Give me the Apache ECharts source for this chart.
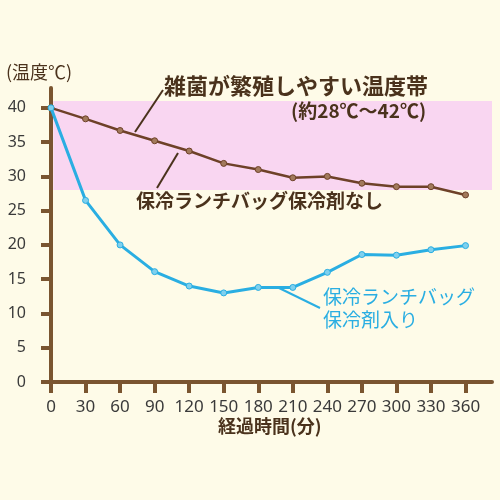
<!DOCTYPE html>
<html><head><meta charset="utf-8">
<script src="https://cdn.jsdelivr.net/npm/echarts@6/dist/echarts.min.js"></script>
<style>html,body{margin:0;padding:0;background:#fefbe8;}#c{width:500px;height:500px;}</style>
</head><body><div id="c"></div>
<script>
var minutes = [0,30,60,90,120,150,180,210,240,270,300,330,360];
var noIce = [40,38.4,36.7,35.2,33.7,31.9,31.0,29.8,30.0,29.0,28.5,28.5,27.3];
var withIce = [40,26.5,20.0,16.1,14.0,13.0,13.8,13.8,16.0,18.6,18.5,19.3,19.9];
var yTicks = [0,5,10,15,20,25,30,35,40];
var xTicks = [0,30,60,90,120,150,180,210,240,270,300,330,360];
var band = [28,41];

var brown = '#4a321c';
var axisC = '#7a5530';
var blue = '#2aaee2';
var font = '"Noto Sans CJK JP","Noto Sans",sans-serif';

function pairs(xs, ys){ return xs.map(function(x,i){return [x, ys[i]];}); }

var chart = echarts.init(document.getElementById('c'));
chart.setOption({
  backgroundColor: '#fefbe8',
  animation: false,
  grid: {left: 51, top: 88, right: 8, bottom: 118},
  xAxis: {
    type: 'value', min: 0, max: 383,
    splitLine: {show: false},
    axisLine: {lineStyle: {color: axisC, width: 4}},
    axisTick: {customValues: xTicks, length: 11, lineStyle: {color: axisC, width: 4}},
    axisLabel: {customValues: xTicks, margin: 17, fontSize: 17, color: '#3a3a3a', fontFamily: 'Noto Sans'}
  },
  yAxis: {
    type: 'value', min: 0, max: 42.9,
    splitLine: {show: false},
    axisLine: {show: true, lineStyle: {color: axisC, width: 4}},
    axisTick: {show: true, customValues: yTicks, length: 10, lineStyle: {color: axisC, width: 4}},
    axisLabel: {customValues: yTicks, margin: 25, fontSize: 16, color: '#3a3a3a', fontFamily: 'Noto Sans'}
  },
  series: [
    {
      type: 'line', data: [], silent: true, z: 1,
      markArea: {silent: true, itemStyle: {color: '#f9d6f1', opacity: 1},
        data: [[{xAxis: 2, yAxis: band[0]}, {xAxis: 383, yAxis: band[1]}]]}
    },
    {
      type: 'line', data: pairs(minutes, noIce), z: 3,
      lineStyle: {color: '#6e4128', width: 2.5},
      symbol: 'circle', symbolSize: 6,
      itemStyle: {color: '#a27a5c', borderColor: '#6e4128', borderWidth: 1}
    },
    {
      type: 'line', data: pairs(minutes, withIce), z: 4,
      lineStyle: {color: blue, width: 3},
      symbol: 'circle', symbolSize: 6,
      itemStyle: {color: '#7fd0ee', borderColor: blue, borderWidth: 1}
    }
  ],
  graphic: {
    elements: [
      {type: 'text', z: 100, left: 6, top: 63, style: {text: '(温度℃)', font: '18px ' + font, fill: brown}},
      {type: 'text', z: 100, left: 218, top: 417, style: {text: '経過時間(分)', font: 'bold 18px ' + font, fill: brown}},
      {type: 'text', z: 100, left: 164, top: 75, style: {text: '雑菌が繁殖しやすい温度帯', font: 'bold 22px ' + font, fill: brown}},
      {type: 'text', z: 100, left: 291, top: 101, style: {text: '(約28℃～42℃)', font: 'bold 19px ' + font, fill: brown}},
      {type: 'text', z: 100, left: 136, top: 191, style: {text: '保冷ランチバッグ保冷剤なし', font: 'bold 19px ' + font, fill: brown}},
      {type: 'text', z: 100, left: 323, top: 285, style: {text: '保冷ランチバッグ\n保冷剤入り', font: '19px ' + font, fill: blue, lineHeight: 23}},
      {type: 'line', z: 100, shape: {x1: 163, y1: 90, x2: 135, y2: 132}, style: {stroke: brown, lineWidth: 2}},
      {type: 'line', z: 100, shape: {x1: 178, y1: 153, x2: 157, y2: 188}, style: {stroke: brown, lineWidth: 2}},
      {type: 'line', z: 100, shape: {x1: 277, y1: 287, x2: 320, y2: 308}, style: {stroke: blue, lineWidth: 2}}
    ]
  }
});
</script></body></html>
